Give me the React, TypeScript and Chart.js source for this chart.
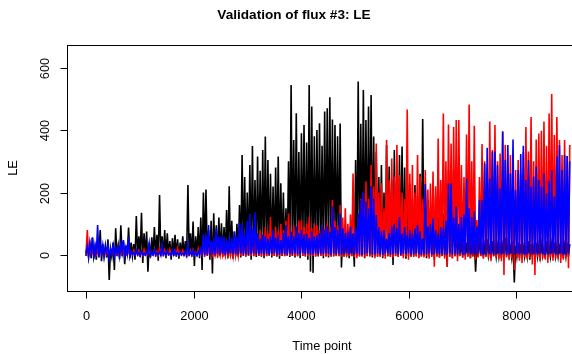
import React, { useEffect, useRef } from "react";
import { Chart, registerables } from "chart.js";

Chart.register(...registerables);

const TITLE = "Validation of flux #3: LE";
const X_LABEL = "Time point";
const Y_LABEL = "LE";
const X_TICKS = [0, 2000, 4000, 6000, 8000];
const Y_TICKS = [0, 200, 400, 600];
const STEPS_PER_DAY = 48;

// daily maxima / minima of each series (one entry per day of 48 time points)
const blackPeaks = [
  40, 30, 55, 25, 45, 80, 35, 30, 50, 20,
  40, 86, 30, 95, 45, 30, 88, 40, 35, 125,
  60, 135, 70, 75, 40, 57, 90, 65, 192, 60,
  80, 70, 45, 54, 65, 50, 40, 60, 45, 224,
  70, 107, 60, 90, 120, 200, 210, 80, 110, 134,
  95, 120, 102, 90, 144, 220, 110, 75, 100, 160,
  320, 250, 200, 288, 349, 240, 315, 270, 336, 379,
  304, 260, 219, 280, 315, 230, 200, 150, 300, 544,
  368, 454, 330, 390, 416, 360, 544, 475, 380, 400,
  422, 350, 459, 470, 505, 434, 416, 380, 421, 70,
  50, 60, 45, 70, 304, 555, 420, 528, 432, 475,
  512, 379, 330, 250, 288, 200, 352, 283, 240, 336,
  260, 320, 347, 280, 200, 229, 180, 224, 190, 260,
  435, 210, 176, 150, 140, 187, 120, 110, 133, 90,
  272, 200, 272, 80, 60, 50, 70, 40, 55, 30,
  48, 35, 60, 40, 30, 50, 25, 45, 35, 30,
  40, 30, 55, 35, 25, 45, 30, 40, 35, 25,
  30, 45, 35, 25, 40, 30, 35, 25, 45, 30,
  35, 40, 30, 25, 35, 30, 40, 35,
];
const blackLows = [
  -3, -6, -10, -4, -15, -5, -20, -4, -8, -80,
  -5, -48, -3, -12, -4, -29, -2, -10, -3, -15,
  -4, -6, -25, -3, -53, -8, -2, -5, -18, -3,
  -4, -10, -2, -15, -3, -5, -12, -2, -4, -8,
  -3, -5, -35, -4, -10, -48, -5, -3, -15, -59,
  -4, -8, -2, -5, -3, -10, -4, -12, -3, -5,
  -8, -3, -5, -2, -15, -4, -6, -3, -5, -10,
  -4, -2, -8, -3, -5, -12, -3, -4, -2, -6,
  -3, -8, -4, -10, -3, -5, -15, -53, -57, -4,
  -5, -3, -10, -4, -8, -3, -5, -2, -4, -40,
  -5, -3, -10, -4, -37, -3, -5, -2, -10, -4,
  -3, -8, -4, -5, -2, -10, -3, -4, -5, -32,
  -3, -5, -2, -4, -12, -3, -5, -4, -2, -8,
  -4, -3, -10, -5, -2, -15, -4, -8, -3, -5,
  -37, -4, -10, -3, -5, -2, -8, -4, -3, -10,
  -4, -53, -5, -3, -8, -4, -2, -10, -3, -5,
  -4, -10, -3, -5, -2, -8, -88, -4, -10, -3,
  -5, -4, -15, -3, -8, -4, -5, -2, -10, -3,
  -4, -8, -3, -5, -2, -10, -4, -5,
];
const redPeaks = [
  80, 20, 12, 25, 15, 10, 20, 8, 15, 10,
  18, 10, 25, 8, 15, 10, 20, 9, 15, 10,
  14, 9, 18, 10, 16, 8, 17, 11, 22, 9,
  15, 11, 18, 8, 14, 22, 11, 15, 9, 18,
  12, 15, 10, 20, 14, 25, 12, 18, 30, 16,
  25, 18, 30, 20, 35, 22, 28, 40, 30, 45,
  35, 50, 40, 60, 45, 70, 55, 80, 60, 90,
  70, 122, 60, 90, 75, 100, 80, 110, 133, 70,
  95, 80, 110, 112, 90, 100, 122, 85, 102, 95,
  80, 96, 86, 102, 90, 176, 110, 95, 160, 120,
  150, 100, 130, 261, 54, 120, 180, 200, 235, 180,
  288, 220, 357, 200, 229, 150, 368, 240, 309, 251,
  352, 256, 200, 180, 466, 260, 288, 200, 320, 251,
  180, 272, 210, 229, 267, 220, 373, 240, 453, 300,
  418, 357, 410, 432, 432, 288, 250, 386, 482, 300,
  414, 112, 250, 355, 300, 280, 427, 336, 416, 300,
  325, 395, 352, 250, 320, 280, 272, 304, 260, 330,
  410, 331, 442, 300, 370, 389, 398, 427, 350, 453,
  515, 384, 442, 368, 320, 368, 317, 352,
];
const redLows = [
  2, 1, 3, 0, 2, 1, 3, 2, 1, 2,
  3, 0, 2, 1, 3, 2, 1, 0, 2, 3,
  1, 2, 0, 3, 1, 2, 3, 0, 1, 2,
  2, 1, 3, 0, 2, 3, 1, 2, 0, 1,
  2, 0, 3, 1, 2, 0, 1, 3, 2, 1,
  -1, 0, -2, -1, -2, 0, -1, -3, -1, -2,
  -2, -1, -3, -1, -2, -3, -1, -2, -3, -2,
  -3, -1, -2, -3, -2, -4, -1, -3, -2, -3,
  -2, -3, -4, -1, -3, -2, -4, -2, -3, -5,
  -2, -3, -2, -5, -3, -6, -2, -4, -3, -5,
  -3, -8, -4, -3, -6, -10, -4, -5, -8, -3,
  -5, -4, -10, -3, -6, -5, -12, -4, -5, -8,
  -4, -6, -3, -10, -5, -15, -4, -6, -5, -10,
  -5, -8, -4, -12, -6, -37, -5, -8, -4, -12,
  -37, -6, -10, -5, -20, -4, -8, -15, -6, -10,
  -5, -15, -8, -4, -12, -6, -10, -20, -5, -8,
  -12, -20, -64, -8, -15, -10, -48, -6, -18, -25,
  -8, -12, -10, -30, -64, -6, -20, -10, -15, -25,
  -8, -18, -12, -10, -25, -15, -8, -42,
];
const bluePeaks = [
  27, 40, 57, 30, 96, 35, 32, 25, 32, 20,
  30, 22, 27, 35, 48, 25, 58, 12, 8, 15,
  8, 12, 6, 10, 38, 9, 16, 7, 10, 32,
  8, 12, 5, 16, 14, 7, 10, 6, 12, 37,
  9, 14, 8, 12, 20, 67, 64, 96, 45, 55,
  85, 59, 61, 59, 48, 45, 55, 75, 59, 103,
  99, 70, 109, 131, 85, 137, 70, 53, 65, 61,
  53, 60, 80, 55, 65, 48, 70, 96, 61, 75,
  60, 91, 70, 80, 65, 69, 55, 75, 60, 64,
  70, 96, 80, 91, 75, 155, 90, 80, 133, 86,
  70, 75, 91, 69, 86, 133, 178, 203, 171, 150,
  221, 181, 128, 90, 75, 80, 53, 70, 91, 100,
  86, 122, 69, 90, 64, 80, 69, 85, 96, 75,
  53, 227, 91, 100, 117, 80, 69, 90, 86, 110,
  229, 229, 120, 155, 100, 122, 130, 245, 150, 122,
  140, 91, 176, 176, 293, 343, 245, 331, 331, 288,
  213, 395, 304, 352, 261, 370, 208, 272, 323, 350,
  240, 304, 219, 251, 283, 240, 219, 261, 197, 237,
  272, 187, 315, 352, 272, 320, 317, 300,
];
const blueLows = [
  5, -5, 10, -13, 3, -8, 5, -3, 8, -10,
  2, -6, 5, -4, 8, -2, 3, -5, 2, 0,
  2, -3, 1, 0, 3, -2, 1, 0, 2, -1,
  1, 0, 2, -2, 1, 0, 0, 1, 1, -1,
  2, 0, 1, -2, 1, 4, 0, 2, -1, 3,
  2, 5, 1, 4, 0, 3, 6, 2, 4, 1,
  5, 2, 3, 0, 4, 6, 1, 3, 5, 2,
  4, 1, 3, 6, 2, 0, 5, 3, 1, 4,
  2, 5, 3, 1, 6, 2, 4, 0, 3, 5,
  1, 4, 2, 6, 3, 0, 5, 2, 4, 1,
  3, 6, 2, 4, 1, 5, 3, 0, 2, 6,
  4, 1, 3, 5, 2, 0, 4, 6, 1, 3,
  5, 2, 0, 4, 3, 6, 1, 2, 5, 3,
  0, 4, 2, 6, 1, 3, 5, 2, 4, 0,
  3, 6, 1, 4, 2, 5, 0, 3, 6, 2,
  4, 1, 5, 3, 0, 2, 6, 4, 1, 3,
  5, 2, 4, 0, 3, 6, 1, 5, 2, 4,
  0, 3, 6, 2, 4, 1, 5, 3, 0, 2,
  4, 6, 1, 3, 5, 2, 0, 4,
];

function buildSeries(lows: number[], peaks: number[]) {
  const pts: { x: number; y: number }[] = [];
  for (let d = 0; d < peaks.length; d++) {
    pts.push({ x: d * STEPS_PER_DAY, y: lows[d] });
    pts.push({ x: d * STEPS_PER_DAY + STEPS_PER_DAY / 2, y: peaks[d] });
  }
  return pts;
}

const FONT = '"Liberation Sans", Arial, Helvetica, sans-serif';

const rAxesPlugin = {
  id: "rAxes",
  afterDraw(chart: any) {
    const ctx = chart.ctx as CanvasRenderingContext2D;
    const { left, top, right, bottom } = chart.chartArea;
    const xs = chart.scales.x;
    const ys = chart.scales.y;
    ctx.save();
    ctx.strokeStyle = "#000";
    ctx.fillStyle = "#000";
    ctx.lineWidth = 1;
    ctx.strokeRect(left - 0.5, top + 0.5, right - left + 1, bottom - top);
    ctx.font = `12.8px ${FONT}`;
    ctx.textAlign = "center";
    ctx.textBaseline = "alphabetic";
    X_TICKS.forEach((v) => {
      const px = Math.round(xs.getPixelForValue(v)) + 0.5;
      ctx.beginPath();
      ctx.moveTo(px, bottom + 0.5);
      ctx.lineTo(px, bottom + 7.5);
      ctx.stroke();
      ctx.fillText(String(v), px, 320);
    });
    Y_TICKS.forEach((v) => {
      const py = Math.round(ys.getPixelForValue(v)) + 0.5;
      ctx.beginPath();
      ctx.moveTo(left - 0.5, py);
      ctx.lineTo(left - 7.5, py);
      ctx.stroke();
      ctx.save();
      ctx.translate(49, py);
      ctx.rotate(-Math.PI / 2);
      ctx.fillText(String(v), 0, 0);
      ctx.restore();
    });
    ctx.fillText(X_LABEL, (left + right) / 2, 350);
    ctx.save();
    ctx.translate(17, (top + bottom) / 2);
    ctx.rotate(-Math.PI / 2);
    ctx.fillText(Y_LABEL, 0, 0);
    ctx.restore();
    ctx.font = `bold 13.6px ${FONT}`;
    ctx.fillText(TITLE, 294, 19);
    ctx.restore();
  },
};

export default function App() {
  const ref = useRef<HTMLCanvasElement | null>(null);
  useEffect(() => {
    if (!ref.current) return;
    const common = { borderWidth: 1.6, pointRadius: 0, borderJoinStyle: "miter" as const };
    const chart = new Chart(ref.current, {
      type: "line",
      data: {
        datasets: [
          { label: "black", data: buildSeries(blackLows, blackPeaks), borderColor: "#000000", order: 3, ...common },
          { label: "red", data: buildSeries(redLows, redPeaks), borderColor: "#ff0000", order: 2, ...common },
          { label: "blue", data: buildSeries(blueLows, bluePeaks), borderColor: "#0000ff", order: 1, ...common },
        ],
      },
      options: {
        animation: false,
        responsive: false,
        parsing: false,
        normalized: true,
        layout: { padding: { left: 0, top: 45, right: 24, bottom: 0 } },
        plugins: {
          legend: { display: false },
          title: { display: false },
          tooltip: { enabled: false },
        },
        elements: { line: { tension: 0 } },
        scales: {
          x: {
            type: "linear",
            min: -335,
            max: 9116,
            grid: { display: false },
            border: { display: false },
            ticks: { display: false },
            afterFit: (s: any) => {
              s.height = 63;
            },
          },
          y: {
            type: "linear",
            min: -115,
            max: 672,
            grid: { display: false },
            border: { display: false },
            ticks: { display: false },
            afterFit: (s: any) => {
              s.width = 68;
            },
          },
        },
      },
      plugins: [rAxesPlugin],
    });
    return () => chart.destroy();
  }, []);
  return (
    <div
      style={{
        position: "absolute",
        left: 0,
        top: 0,
        width: 572,
        height: 354,
        overflow: "hidden",
        background: "#fff",
      }}
    >
      <canvas ref={ref} width={600} height={354} style={{ width: 600, height: 354 }} />
    </div>
  );
}
